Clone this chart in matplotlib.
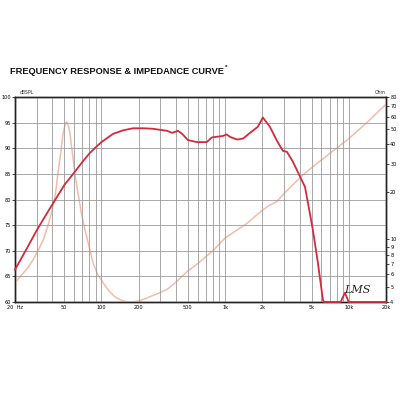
import matplotlib
matplotlib.use("Agg")
import matplotlib.pyplot as plt
from matplotlib.ticker import FixedLocator, NullLocator, NullFormatter

# ---- data ----
spl_freq = [20, 25, 30, 35, 40, 45, 50, 60, 70, 80, 90, 100, 124, 150, 180, 220, 260,
            340, 372, 416, 450, 500, 590, 710, 780, 960, 1030, 1100, 1250, 1400, 1590,
            1840, 2020, 2300, 2620, 2930, 3160, 3530, 4030, 4420, 4680, 5130, 5630,
            6180, 6300, 8600, 9300, 10000, 20000]
spl_db = [66.3, 70.5, 74.0, 76.7, 79.0, 81.0, 82.8, 85.2, 87.3, 89.0, 90.2, 91.2, 92.8,
          93.5, 93.9, 93.9, 93.8, 93.4, 93.0, 93.4, 92.8, 91.6, 91.2, 91.2, 92.1, 92.4,
          92.7, 92.2, 91.7, 91.9, 93.0, 94.2, 96.0, 94.2, 91.5, 89.5, 89.3, 87.4, 84.5,
          82.5, 79.3, 74.0, 67.6, 60.4, 60.0, 60.0, 61.8, 60.0, 60.0]

imp_freq = [20, 25, 28, 31, 34, 37, 40, 42.5, 44.5, 47, 49, 51, 52.3, 54, 55.6, 57, 58.8,
            61, 64.6, 69, 73.6, 80, 85.5, 93, 103, 115, 129, 145, 163, 185, 205, 235,
            261, 300, 339, 406, 500, 600, 800, 1000, 1500, 2000, 2300, 2600, 3000,
            4000, 5000, 7000, 10000, 14000, 20000]
imp_ohm = [5.3, 6.5, 7.4, 8.6, 10.0, 12.3, 15.3, 19.5, 26.3, 36.0, 47.2, 54.0, 55.7,
           53.0, 47.0, 40.0, 33.4, 26.0, 19.7, 14.5, 11.5, 8.8, 7.1, 6.0, 5.3, 4.7, 4.3,
           4.1, 4.0, 4.02, 4.08, 4.25, 4.4, 4.6, 4.8, 5.4, 6.3, 7.0, 8.5, 10.2, 12.6,
           15.3, 16.5, 17.3, 19.5, 24.5, 28.5, 35.0, 43.5, 55.0, 72.0]

x_ticks = [20, 50, 100, 200, 500, 1000, 2000, 5000, 10000, 20000]
x_labels = ["20  Hz", "50", "100", "200", "500", "1k", "2k", "5k", "10k", "20k"]
db_ticks = [60, 65, 70, 75, 80, 85, 90, 95, 100]
ohm_ticks = [4, 5, 6, 7, 8, 9, 10, 20, 30, 40, 50, 60, 70, 80]

title = "FREQUENCY RESPONSE & IMPEDANCE CURVE"

# ---- figure ----
fig = plt.figure(figsize=(4, 4), dpi=100)
ax = fig.add_axes([15/400, 1-302/400, 371/400, 205/400])
ax.set_xscale("log")
ax.set_xlim(20, 20000)
ax.set_ylim(60, 100)

grid_c = "#9a9a9a"
ax.xaxis.set_major_locator(FixedLocator(x_ticks))
ax.set_xticklabels(x_labels)
ax.xaxis.set_minor_locator(FixedLocator(
    [f * d for d in (10, 100, 1000) for f in range(2, 10)] + [20000]))
ax.xaxis.set_minor_formatter(NullFormatter())
ax.grid(True, which="both", axis="x", color=grid_c, lw=0.6)
ax.set_yticks(db_ticks)
ax.set_yticklabels([str(v) for v in db_ticks])
ax.grid(True, which="major", axis="y", color=grid_c, lw=0.6)
ax.tick_params(axis="x", which="both", length=0, labelsize=3.6, pad=2)
ax.tick_params(axis="y", which="both", length=2, width=0.5, labelsize=3.6, pad=1)
for s in ax.spines.values():
    s.set_color("#222222")
    s.set_linewidth(1.0)

ax2 = ax.twinx()
ax2.set_yscale("log")
ax2.set_ylim(4, 80)
ax2.yaxis.set_major_locator(FixedLocator(ohm_ticks))
ax2.yaxis.set_minor_locator(NullLocator())
ax2.set_yticklabels([str(v) for v in ohm_ticks])
ax2.yaxis.set_minor_formatter(NullFormatter())
ax2.tick_params(axis="y", which="both", length=2, width=0.5, labelsize=3.6, pad=1)
for s in ax2.spines.values():
    s.set_color("#222222")
    s.set_linewidth(1.0)

ax2.plot(imp_freq, imp_ohm, color="#f3bca8", lw=1.1, zorder=3)
ax.set_zorder(ax2.get_zorder() + 1)
ax.patch.set_visible(False)
ax.plot(spl_freq, spl_db, color="#d42a3c", lw=1.3, zorder=5, clip_on=False)

t = fig.text(10/400, 1-72/400, title, fontsize=6.65, fontweight="bold", va="center",
             ha="left", color="#111111", family="Liberation Sans")
fig.canvas.draw()
bb = t.get_window_extent()
fig.text((bb.x1 + 1) / 400, 1-67/400, "*", fontsize=4.5, fontweight="bold",
         va="center", ha="left", color="#111111", family="Liberation Sans")
fig.text(20/400, 1-93/400, "dBSPL", fontsize=3.3, va="center", ha="left", color="#333333")
fig.text(375/400, 1-93/400, "Ohm", fontsize=3.3, va="center", ha="left", color="#333333")
fig.text(357/400, 1-290/400, "LMS", fontsize=8, style="italic", va="center", ha="center",
         color="#222222", family="DejaVu Serif")

fig.savefig("out.png", dpi=100, facecolor="white")
